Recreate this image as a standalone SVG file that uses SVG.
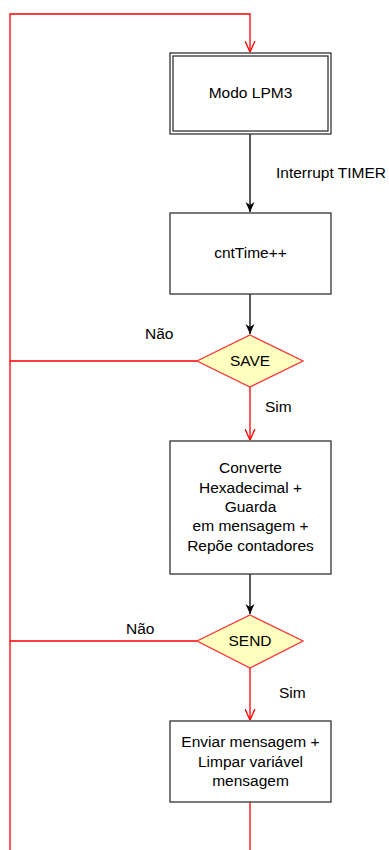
<svg xmlns="http://www.w3.org/2000/svg" width="389" height="850" viewBox="0 0 389 850">
<defs>
<marker id="blk" viewBox="0 0 10 10" refX="10" refY="5" markerWidth="10" markerHeight="10" markerUnits="userSpaceOnUse" orient="auto">
<path d="M0,0.5 L10,5 L0,9.5 L3,5 Z" fill="#000"/>
</marker>
<marker id="red" viewBox="0 0 10 10" refX="10" refY="5" markerWidth="11" markerHeight="11" markerUnits="userSpaceOnUse" orient="auto">
<path d="M0,0.5 L10,5 L0,9.5" fill="none" stroke="#ff0000" stroke-width="1.2"/>
</marker>
</defs>
<style>
text{font-family:"Liberation Sans",Arial,sans-serif;font-size:15.5px;fill:#000;text-anchor:middle;dominant-baseline:central}
.box{fill:#fff;stroke:#333;stroke-width:1.3}
.dia{fill:#ffffc0;stroke:#ff3333;stroke-width:1.3}
.r{fill:none;stroke:#ff0000;stroke-width:1.3}
.k{fill:none;stroke:#000;stroke-width:1.3}
.lbl{text-anchor:start}
</style>
<rect width="389" height="850" fill="#fff"/>
<g id="connectors">
<path class="r" d="M10,850 V14 H250 V52" marker-end="url(#red)"/>
<path class="k" d="M250,134 V212" marker-end="url(#blk)"/>
<path class="k" d="M250,294 V334" marker-end="url(#blk)"/>
<path class="r" d="M197,361 H10"/>
<path class="r" d="M250,387 V440" marker-end="url(#red)"/>
<path class="k" d="M250,574 V614" marker-end="url(#blk)"/>
<path class="r" d="M197,641 H10"/>
<path class="r" d="M250,668 V720" marker-end="url(#red)"/>
<path class="r" d="M250,802 V850"/>
<text class="lbl" x="276" y="172">Interrupt TIMER</text>
<text class="lbl" x="145" y="333" font-size="14">Não</text>
<text class="lbl" x="265" y="406" font-size="14">Sim</text>
<text class="lbl" x="126" y="628" font-size="14">Não</text>
<text class="lbl" x="279" y="692" font-size="14">Sim</text>
</g>
<g id="lpm3">
<rect class="box" x="170" y="53" width="161" height="81"/>
<rect class="box" x="173" y="56" width="155" height="75"/>
<text x="250.5" y="92">Modo LPM3</text>
</g>
<g id="cnttime">
<rect class="box" x="170" y="213" width="161" height="81"/>
<text x="250.5" y="252">cntTime++</text>
</g>
<g id="save">
<path class="dia" d="M250,335 L303,361 L250,387 L197,361 Z"/>
<text x="250" y="360">SAVE</text>
</g>
<g id="converte">
<rect class="box" x="170" y="441" width="161" height="133"/>
<text x="250.5" y="467">Converte</text>
<text x="250.5" y="487">Hexadecimal +</text>
<text x="250.5" y="506">Guarda</text>
<text x="250.5" y="525">em mensagem +</text>
<text x="250.5" y="545">Repõe contadores</text>
</g>
<g id="send">
<path class="dia" d="M250,615 L303,641 L250,668 L197,641 Z"/>
<text x="250" y="640">SEND</text>
</g>
<g id="enviar">
<rect class="box" x="170" y="721" width="161" height="81"/>
<text x="250.5" y="741">Enviar mensagem +</text>
<text x="250.5" y="761">Limpar variável</text>
<text x="250.5" y="780">mensagem</text>
</g>
</svg>
